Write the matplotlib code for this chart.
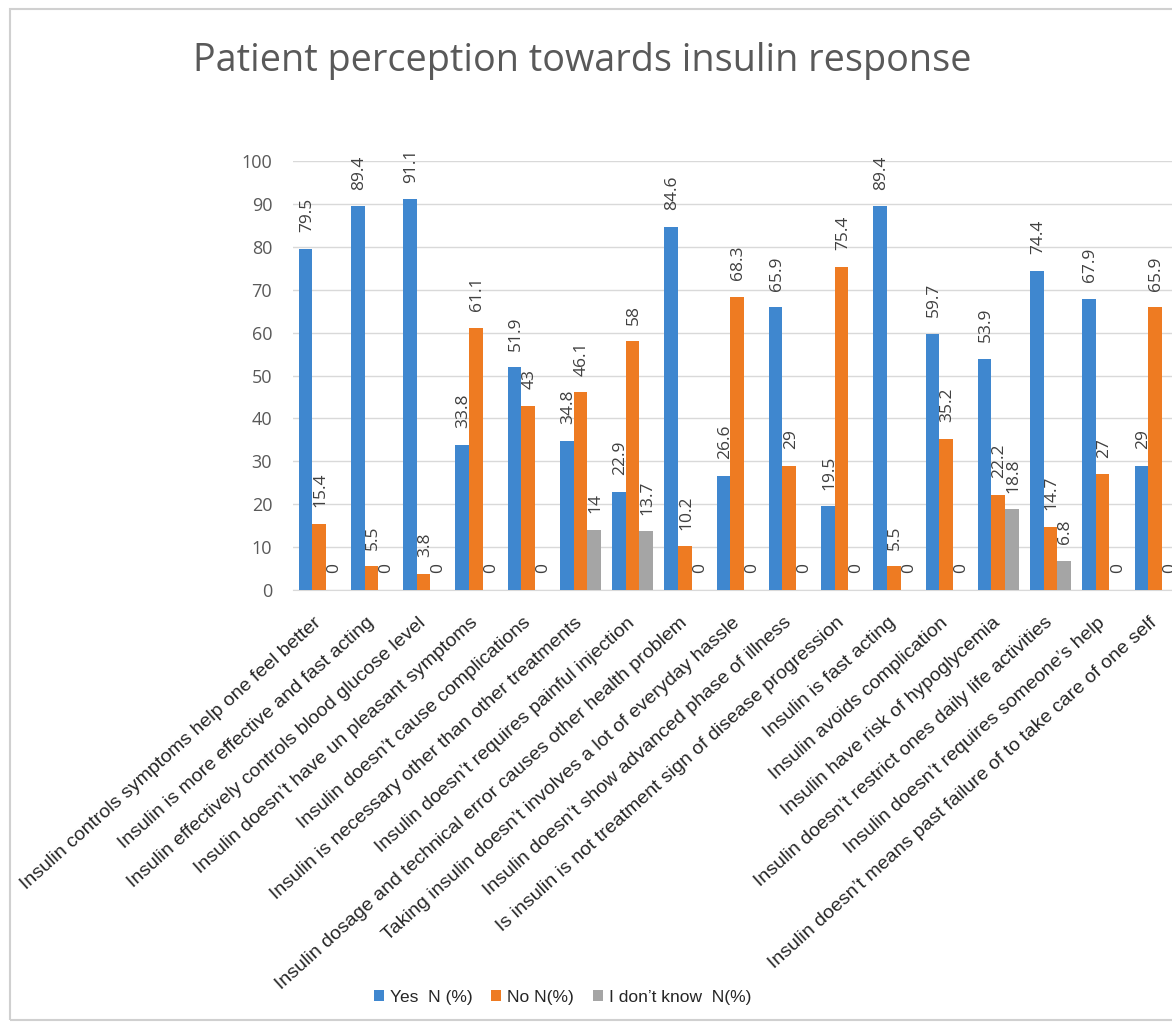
import matplotlib.pyplot as plt
from matplotlib.patches import Rectangle
import numpy as np

# data
statements = [
    "Insulin controls symptoms help one feel better",
    "Insulin is more effective and fast acting",
    "Insulin effectively controls blood glucose level",
    "Insulin doesn’t have un pleasant symptoms",
    "Insulin doesn’t cause complications",
    "Insulin is necessary other than other treatments",
    "Insulin doesn’t requires painful injection",
    "Insulin dosage and technical error causes other health problem",
    "Taking insulin doesn’t involves a lot of everyday hassle",
    "Insulin doesn’t show advanced phase of illness",
    "Is insulin is not treatment sign of disease progression",
    "Insulin is fast acting",
    "Insulin avoids complication",
    "Insulin have risk of hypoglycemia",
    "Insulin doesn’t restrict ones daily life activities",
    "Insulin doesn’t requires someone’s help",
    "Insulin doesn’t means past failure of to take care of one self",
]
yes_pct = [79.5, 89.4, 91.1, 33.8, 51.9, 34.8, 22.9, 84.6, 26.6, 65.9, 19.5, 89.4, 59.7, 53.9, 74.4, 67.9, 29]
no_pct = [15.4, 5.5, 3.8, 61.1, 43, 46.1, 58, 10.2, 68.3, 29, 75.4, 5.5, 35.2, 22.2, 14.7, 27, 65.9]
dontknow_pct = [0, 0, 0, 0, 0, 14, 13.7, 0, 0, 0, 0, 0, 0, 18.8, 6.8, 0, 0]

series_names = ["Yes  N (%)", "No N(%)", "I don’t know  N(%)"]
colors = ["#3F87CF", "#EE7B22", "#A5A5A5"]

fig = plt.figure(figsize=(11.72, 10.25), dpi=100)
fig.patch.set_facecolor("white")

# chart frame (right side is cut off in the original)
fig.patches.append(Rectangle((0.0085, 0.005), 1.2, 0.9865, transform=fig.transFigure,
                             fill=False, edgecolor="#D0D0D0", linewidth=1.5))

ax = fig.add_axes([0.25, 0.4244, 0.7577, 0.4185])

x = np.arange(len(statements))
w = 0.26
for i, (vals, c) in enumerate(zip([yes_pct, no_pct, dontknow_pct], colors)):
    pos = x + (i - 1) * w
    ax.bar(pos, vals, width=w, color=c, label=series_names[i], zorder=3)
    for xp, v in zip(pos, vals):
        ax.annotate(f"{v:g}", (xp, v), xytext=(1, 12), textcoords="offset points",
                    rotation=90, ha="center", va="bottom", fontsize=12.5,
                    color="#404040", family="Open Sans")

ax.set_xlim(-0.5, len(statements) - 0.5)
ax.set_ylim(0, 100)
ax.set_yticks(range(0, 101, 10))
ax.grid(axis="y", color="#D9D9D9", linewidth=1, zorder=0)
for s in ["top", "right", "left"]:
    ax.spines[s].set_visible(False)
ax.spines["bottom"].set_color("#D9D9D9")
ax.tick_params(axis="both", length=0)
ax.tick_params(axis="y", pad=15, labelsize=13, labelcolor="#595959")
for lab in ax.get_yticklabels():
    lab.set_family("Open Sans")

ax.set_xticks(x)
ax.set_xticklabels(statements, rotation=42, ha="right", va="center",
                   rotation_mode="anchor", fontsize=14, color="#262626",
                   family="Liberation Sans")
ax.tick_params(axis="x", pad=22)

fig.text(0.497, 0.940, "Patient perception towards insulin response", ha="center",
         va="center", fontsize=27.2, color="#595959", family="Open Sans")

fig.legend(loc="center", bbox_to_anchor=(0.48, 0.027), ncol=3, frameon=False,
           prop={"family": "Liberation Sans", "size": 12.5}, handlelength=0.55,
           handleheight=0.55, handletextpad=0.35, columnspacing=1.1,
           labelcolor="#262626")

fig.savefig("out.png", dpi=100)
